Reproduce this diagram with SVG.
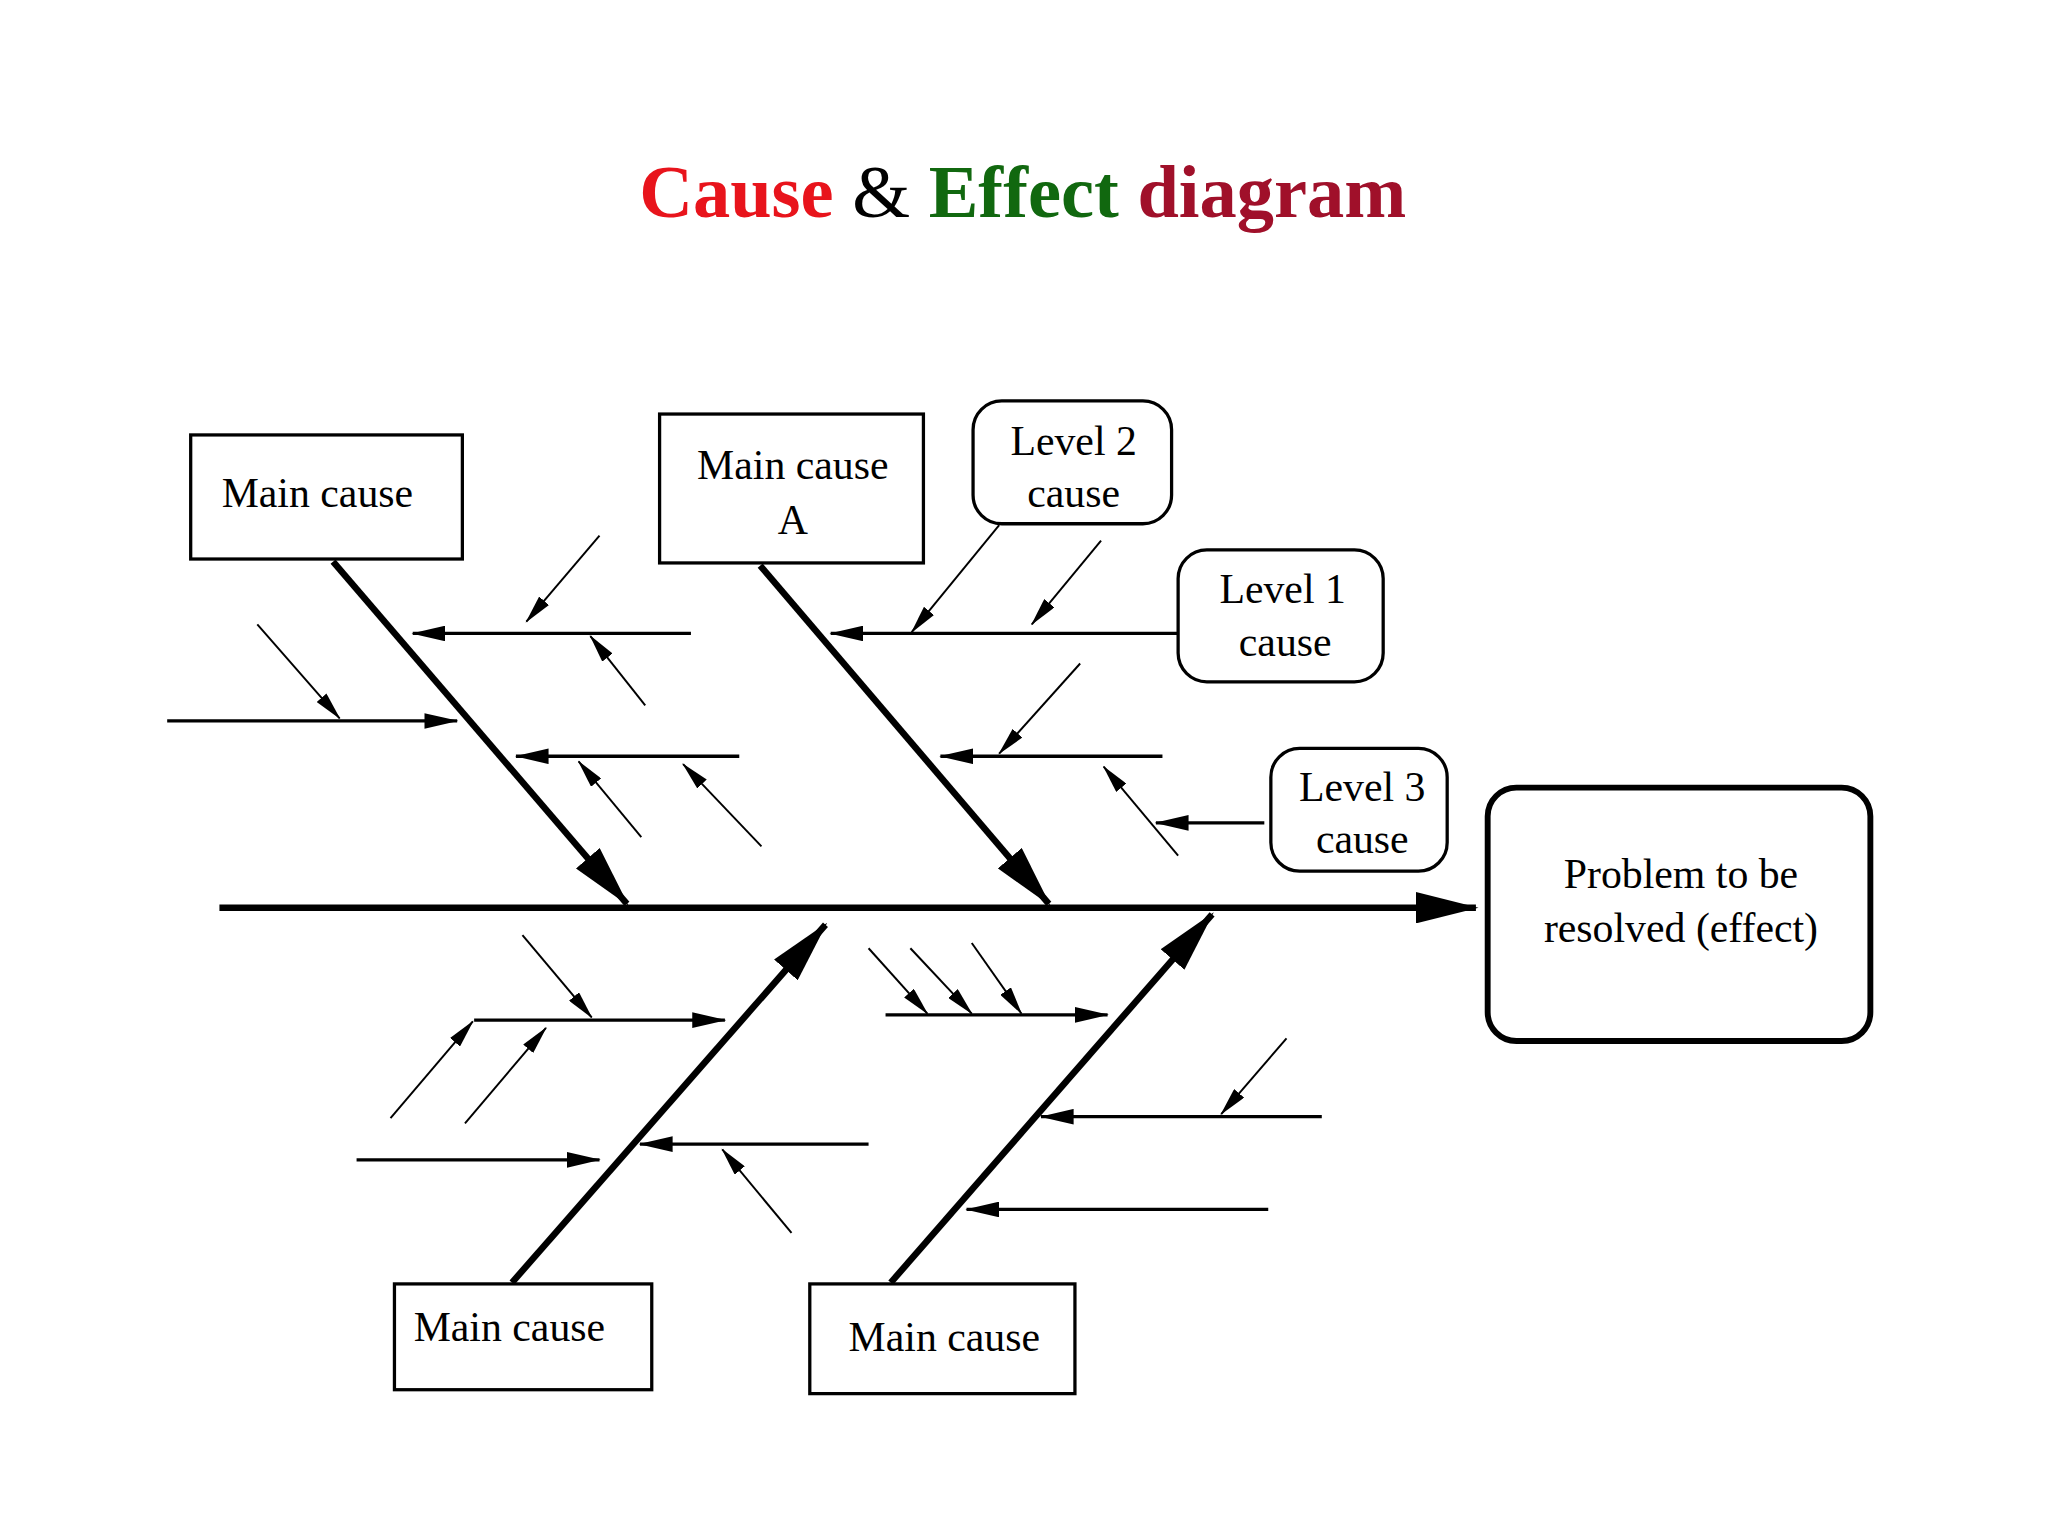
<svg xmlns="http://www.w3.org/2000/svg" width="2048" height="1536" viewBox="0 0 2048 1536">
<style>
.box{fill:#fff;stroke:#000;stroke-width:2.5}
.lbl{font-family:"Liberation Serif",serif;font-size:32px;text-anchor:middle;fill:#000}
.bone{stroke:#000;stroke-width:5;fill:none}
.br{stroke:#000;stroke-width:2.5;fill:none}
.sm{stroke:#000;stroke-width:1.5;fill:none}
</style>
<defs>
<marker id="big" markerUnits="userSpaceOnUse" markerWidth="48" markerHeight="24" refX="46" refY="12" orient="auto"><path d="M0,0 L48,12 L0,24 Z" fill="#000"/></marker>
<marker id="mid" markerUnits="userSpaceOnUse" markerWidth="26" markerHeight="12" refX="25" refY="6" orient="auto"><path d="M0,0 L26,6 L0,12 Z" fill="#000"/></marker>
<marker id="sml" markerUnits="userSpaceOnUse" markerWidth="22" markerHeight="10" refX="21" refY="5" orient="auto"><path d="M0,0 L22,5 L0,10 Z" fill="#000"/></marker>
</defs>
<rect width="2048" height="1536" fill="#fff"/>
<g transform="scale(1.30612)">
<text x="783" y="166" text-anchor="middle" font-family="Liberation Serif,serif" font-size="57" font-weight="bold"><tspan fill="#e8141c">Cause</tspan><tspan fill="#000" font-weight="normal"> &amp; </tspan><tspan fill="#11680f">Effect</tspan><tspan fill="#a0102a"> diagram</tspan></text>
<g id="connectors">
<line class="bone" x1="168" y1="695" x2="1130" y2="695" marker-end="url(#big)"/>
<line class="bone" x1="255" y1="430" x2="480" y2="692" marker-end="url(#big)"/>
<line class="bone" x1="582" y1="433" x2="803" y2="692" marker-end="url(#big)"/>
<line class="bone" x1="392" y1="982" x2="632" y2="708" marker-end="url(#big)"/>
<line class="bone" x1="682" y1="982" x2="928" y2="700" marker-end="url(#big)"/>
<line class="br" x1="529" y1="485" x2="316" y2="485" marker-end="url(#mid)"/>
<line class="br" x1="128" y1="552" x2="350" y2="552" marker-end="url(#mid)"/>
<line class="br" x1="566" y1="579" x2="395" y2="579" marker-end="url(#mid)"/>
<line class="sm" x1="459" y1="410" x2="403" y2="476" marker-end="url(#sml)"/>
<line class="sm" x1="494" y1="540" x2="452" y2="487" marker-end="url(#sml)"/>
<line class="sm" x1="197" y1="478" x2="260" y2="550" marker-end="url(#sml)"/>
<line class="sm" x1="491" y1="641" x2="443" y2="583" marker-end="url(#sml)"/>
<line class="sm" x1="583" y1="648" x2="523" y2="585" marker-end="url(#sml)"/>
<line class="br" x1="902" y1="485" x2="636" y2="485" marker-end="url(#mid)"/>
<line class="sm" x1="765" y1="402" x2="698" y2="484" marker-end="url(#sml)"/>
<line class="sm" x1="843" y1="414" x2="790" y2="478" marker-end="url(#sml)"/>
<line class="br" x1="890" y1="579" x2="720" y2="579" marker-end="url(#mid)"/>
<line class="sm" x1="827" y1="508" x2="765" y2="577" marker-end="url(#sml)"/>
<line class="sm" x1="902" y1="655" x2="845" y2="587" marker-end="url(#sml)"/>
<line class="br" x1="968" y1="630" x2="885" y2="630" marker-end="url(#mid)"/>
<line class="br" x1="363" y1="781" x2="555" y2="781" marker-end="url(#mid)"/>
<line class="sm" x1="400" y1="716" x2="453" y2="779" marker-end="url(#sml)"/>
<line class="sm" x1="299" y1="856" x2="362" y2="782" marker-end="url(#sml)"/>
<line class="sm" x1="356" y1="860" x2="418" y2="787" marker-end="url(#sml)"/>
<line class="br" x1="273" y1="888" x2="459" y2="888" marker-end="url(#mid)"/>
<line class="br" x1="665" y1="876" x2="490" y2="876" marker-end="url(#mid)"/>
<line class="sm" x1="606" y1="944" x2="553" y2="880" marker-end="url(#sml)"/>
<line class="br" x1="678" y1="777" x2="848" y2="777" marker-end="url(#mid)"/>
<line class="sm" x1="665" y1="726" x2="710" y2="776" marker-end="url(#sml)"/>
<line class="sm" x1="697" y1="726" x2="744" y2="776" marker-end="url(#sml)"/>
<line class="sm" x1="744" y1="722" x2="782" y2="776" marker-end="url(#sml)"/>
<line class="br" x1="1012" y1="855" x2="797" y2="855" marker-end="url(#mid)"/>
<line class="sm" x1="985" y1="795" x2="935" y2="853" marker-end="url(#sml)"/>
<line class="br" x1="971" y1="926" x2="740" y2="926" marker-end="url(#mid)"/>
</g>
<g id="main1"><rect class="box" x="146" y="333" width="208" height="95"/><text class="lbl" x="243" y="388">Main cause</text></g>
<g id="mainA"><rect class="box" x="505" y="317" width="202" height="114"/><text class="lbl" x="607" y="367">Main cause</text><text class="lbl" x="607" y="409">A</text></g>
<g id="level2"><rect class="box" x="745" y="307" width="152" height="94" rx="22"/><text class="lbl" x="822" y="348">Level 2</text><text class="lbl" x="822" y="388">cause</text></g>
<g id="level1"><rect class="box" x="902" y="421" width="157" height="101" rx="22"/><text class="lbl" x="982" y="462">Level 1</text><text class="lbl" x="984" y="502">cause</text></g>
<g id="level3"><rect class="box" x="973" y="573" width="135" height="94" rx="22"/><text class="lbl" x="1043" y="613">Level 3</text><text class="lbl" x="1043" y="653">cause</text></g>
<g id="effect"><rect x="1139" y="603" width="293" height="194" rx="22" fill="#fff" stroke="#000" stroke-width="4.5"/><text class="lbl" x="1287" y="680">Problem to be</text><text class="lbl" x="1287" y="721">resolved (effect)</text></g>
<g id="main3"><rect class="box" x="302" y="983" width="197" height="81"/><text class="lbl" x="390" y="1027">Main cause</text></g>
<g id="main4"><rect class="box" x="620" y="983" width="203" height="84"/><text class="lbl" x="723" y="1034">Main cause</text></g>
</g>
</svg>
